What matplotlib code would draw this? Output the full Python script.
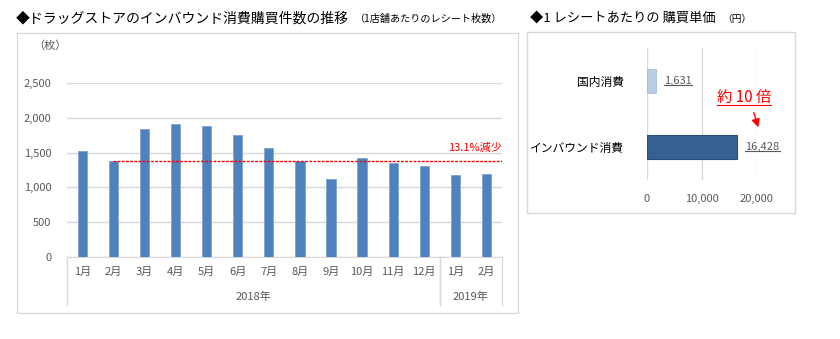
import matplotlib.pyplot as plt
from matplotlib.lines import Line2D
from matplotlib.patches import Rectangle

plt.rcParams['font.family'] = ['Noto Sans CJK JP', 'DejaVu Sans']

# monthly receipts per store (inbound customers)
months = ['1月', '2月', '3月', '4月', '5月', '6月', '7月', '8月', '9月', '10月', '11月', '12月', '1月', '2月']
receipts = [1524, 1380, 1846, 1918, 1890, 1760, 1567, 1385, 1120, 1423, 1356, 1313, 1173, 1199]
years = ['2018年', '2019年']
year_months = [12, 2]
baseline = 1380
drop_label = '13.1%減少'

# purchase amount per receipt
kinds = ['国内消費', 'インバウンド消費']
unit_price = [1631, 16428]
price_ticks = [0, 10000, 20000]

W, H = 840, 339
fig = plt.figure(figsize=(W / 100, H / 100), dpi=100)
gray = '#595959'
grid = '#D9D9D9'


def px(x0, y0, x1, y1):
    return [x0 / W, 1 - y1 / H, (x1 - x0) / W, (y1 - y0) / H]


# panel frames
fig.add_artist(Rectangle((17 / W, 1 - 313 / H), (518 - 17) / W, (313 - 33) / H,
                         transform=fig.transFigure, fill=False, ec=grid, lw=1))
fig.add_artist(Rectangle((527 / W, 1 - 213 / H), (795 - 527) / W, (213 - 32) / H,
                         transform=fig.transFigure, fill=False, ec=grid, lw=1))

# titles
fig.text(16 / W, 1 - 18 / H, '◆ドラッグストアのインバウンド消費購買件数の推移', fontsize=10, va='center')
fig.text(355 / W, 1 - 19 / H, '（1店舗あたりのレシート枚数）', fontsize=7.3, va='center')
fig.text(530 / W, 1 - 18 / H, '◆1 レシートあたりの 購買単価', fontsize=9.5, va='center')
fig.text(722 / W, 1 - 19 / H, '（円）', fontsize=7, va='center')
fig.text(33 / W, 1 - 46 / H, '（枚）', fontsize=8, color=gray, va='center')

# left chart
ax = fig.add_axes(px(66.7, 83.3, 502, 256.7))
x = list(range(len(months)))
ax.bar(x, receipts, width=0.3, color='#4F81BD', edgecolor='#7FA3D0', lw=0.6, zorder=3)
ax.set_xlim(-0.5, len(months) - 0.5)
ax.set_ylim(0, 2500)
ax.set_yticks(range(0, 2501, 500))
ax.set_yticklabels([f'{v:,}' for v in range(0, 2501, 500)])
ax.yaxis.grid(True, color=grid, lw=1)
ax.set_axisbelow(True)
for s in ['top', 'right', 'left']:
    ax.spines[s].set_visible(False)
ax.spines['bottom'].set_color(grid)
ax.set_xticks(x)
ax.set_xticklabels(months)
ax.tick_params(axis='both', length=0, labelsize=8, colors=gray)
ax.tick_params(axis='x', pad=7)
ax.tick_params(axis='y', pad=11)

ax.plot([1, len(months) - 0.5], [baseline, baseline], color='#FF0000', ls=(0, (2, 1)), lw=1, zorder=4)
ax.text(len(months) - 0.5, 1500, drop_label, color='#FF0000', fontsize=8, ha='right', va='bottom')

# month / year separators below the axis
depth = (305 - 256.7) / (256.7 - 83.3)
start = 0
for yr, n in zip(years, year_months):
    for edge in (start - 0.5, start + n - 0.5):
        ax.add_line(Line2D([edge, edge], [0, -depth], color=grid, lw=1,
                           transform=ax.get_xaxis_transform(), clip_on=False))
    ax.text(start + (n - 1) / 2, -0.232, yr, transform=ax.get_xaxis_transform(),
            ha='center', va='center', fontsize=8, color=gray)
    start += n

# right chart
ax2 = fig.add_axes(px(646.7, 48, 756.3, 180))
ax2.barh([0], unit_price[:1], height=0.35, color='#B9CDE5', edgecolor='#A6BFDD', lw=0.6, zorder=3)
ax2.barh([1], unit_price[1:], height=0.35, color='#376092', edgecolor='#2A4C75', lw=0.8, zorder=3)
ax2.set_xlim(0, 20000)
ax2.set_ylim(1.5, -0.5)
ax2.set_xticks(price_ticks)
ax2.set_xticklabels([f'{v:,}' for v in price_ticks])
ax2.set_yticks([0, 1])
ax2.set_yticklabels(kinds)
ax2.xaxis.grid(True, color=grid, lw=1)
ax2.set_axisbelow(True)
for s in ax2.spines.values():
    s.set_visible(False)
ax2.tick_params(axis='x', length=0, labelsize=8, colors=gray, pad=10)
ax2.tick_params(axis='y', length=0, labelsize=8.5, colors='#000000', pad=16)

labels = []
for i, v in enumerate(unit_price):
    labels.append(ax2.text(v + 1600, i, f'{v:,}', va='center', ha='left', fontsize=8, color=gray))
times = fig.text(717 / W, 1 - 97 / H, '約 10 倍', color='#FF0000', fontsize=11, va='center')
labels.append(times)
ax2.annotate('', xy=(759 / W, 1 - 130 / H), xytext=(753 / W, 1 - 110 / H),
             xycoords='figure fraction', textcoords='figure fraction',
             arrowprops=dict(arrowstyle='-|>', color='#FF0000', lw=1, mutation_scale=12))

# underline the value labels
fig.canvas.draw()
r = fig.canvas.get_renderer()
for t in labels:
    bb = t.get_window_extent(r)
    fig.add_artist(Line2D([bb.x0 / W, bb.x1 / W], [(bb.y0 + 1) / H, (bb.y0 + 1) / H],
                          color=t.get_color(), lw=0.8))

fig.savefig('out.png', dpi=100)
